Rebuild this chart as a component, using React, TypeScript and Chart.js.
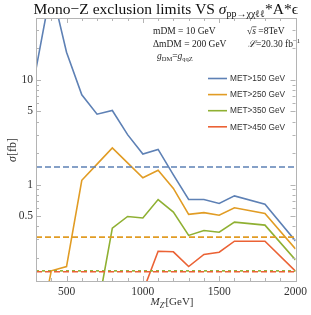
import React, { useEffect, useRef } from "react";
import { Chart, registerables } from "chart.js";
Chart.register(...registerables);

const masses = [300, 400, 500, 600, 700, 800, 900, 1000, 1100, 1200, 1300, 1400, 1500, 1600, 1800, 2000];
const met150 = [12.7, 76, 18.4, 7.2, 4.7, 5.1, 3.0, 1.96, 2.17, 1.24, 0.72, 0.72, 0.66, 0.78, 0.65, 0.29];
const met250 = [0.027, 0.15, 0.165, 1.1, 1.57, 2.24, 1.61, 1.16, 1.37, 0.92, 0.52, 0.54, 0.51, 0.6, 0.53, 0.243];
const met350 = [null, null, null, null, 0.06, 0.384, 0.496, 0.48, 0.72, 0.546, 0.327, 0.364, 0.351, 0.438, 0.41, 0.191];
const met450 = [null, null, null, null, null, null, null, 0.095, 0.231, 0.228, 0.165, 0.215, 0.226, 0.288, 0.288, 0.149];
const limits = [1.47, 0.315, 0.15, 0.147];
const seriesLabels = ["MET>150 GeV", "MET>250 GeV", "MET>350 GeV", "MET>450 GeV"];
const colors = ["#5E81B5", "#E19C24", "#8FB032", "#EB6235"];
const dashes = [[6, 3], [6, 3], [3, 3], [6, 3]];
const xTicks = [500, 1000, 1500, 2000];
const yTicks = [0.5, 1, 5, 10];
const yMinor = [0.2, 0.3, 0.4, 0.6, 0.7, 0.8, 0.9, 2, 3, 4, 6, 7, 8, 9, 20, 30];

const SERIF = '"Liberation Serif", "Times New Roman", serif';
const SANS = '"Liberation Sans", Arial, sans-serif';

type Run = { t: string; font: string; dy?: number; over?: boolean };

function runsWidth(ctx: CanvasRenderingContext2D, runs: Run[]) {
  let w = 0;
  for (const r of runs) {
    ctx.font = r.font;
    w += ctx.measureText(r.t).width;
  }
  return w;
}

function drawRuns(ctx: CanvasRenderingContext2D, runs: Run[], x: number, y: number) {
  let cx = x;
  for (const r of runs) {
    ctx.font = r.font;
    const w = ctx.measureText(r.t).width;
    ctx.fillText(r.t, cx, y + (r.dy || 0));
    if (r.over) {
      ctx.fillRect(cx, y - 7.5, w + 0.5, 0.7);
    }
    cx += w;
  }
  return cx;
}

const deco = {
  id: "deco",
  afterDraw(chart: any) {
    const { ctx, chartArea: a, scales } = chart;
    const xs = scales.x;
    const ys = scales.y;
    ctx.save();
    // frame
    ctx.strokeStyle = "#b4b4b4";
    ctx.lineWidth = 1;
    ctx.strokeRect(Math.round(a.left) + 0.5, Math.round(a.top) + 0.5, Math.round(a.right - a.left), Math.round(a.bottom - a.top));
    ctx.beginPath();
    for (let v = 300; v <= 2000; v += 100) {
      const px = Math.round(xs.getPixelForValue(v)) + 0.5;
      const len = v % 500 === 0 ? 5 : 3;
      ctx.moveTo(px, a.bottom);
      ctx.lineTo(px, a.bottom - len);
      ctx.moveTo(px, a.top);
      ctx.lineTo(px, a.top + len);
    }
    const ticks = yTicks.map((v) => [v, 5]).concat(yMinor.map((v) => [v, 3]));
    for (const [v, len] of ticks) {
      const py = Math.round(ys.getPixelForValue(v)) + 0.5;
      ctx.moveTo(a.left, py);
      ctx.lineTo(a.left + len, py);
      ctx.moveTo(a.right, py);
      ctx.lineTo(a.right - len, py);
    }
    ctx.stroke();

    // legend
    ctx.textBaseline = "middle";
    ctx.textAlign = "left";
    for (let i = 0; i < 4; i++) {
      const ly = 78.5 + i * 16.1;
      ctx.strokeStyle = colors[i];
      ctx.lineWidth = 1.6;
      ctx.beginPath();
      ctx.moveTo(208, ly);
      ctx.lineTo(227, ly);
      ctx.stroke();
      ctx.fillStyle = "#333";
      ctx.font = `8.3px ${SANS}`;
      ctx.fillText(seriesLabels[i], 230, ly + 0.5);
    }

    // annotations
    ctx.textBaseline = "alphabetic";
    ctx.fillStyle = "#222";
    const f9 = `9.5px ${SERIF}`;
    const f9i = `italic 9.5px ${SERIF}`;
    const fs = `6.5px ${SERIF}`;
    drawRuns(ctx, [{ t: "mDM = 10 GeV", font: f9 }], 153, 34);
    drawRuns(ctx, [{ t: "ΔmDM = 200 GeV", font: f9 }], 153, 46.5);
    drawRuns(ctx, [
      { t: "g", font: f9i },
      { t: "DM", font: fs, dy: 2 },
      { t: "=", font: f9 },
      { t: "g", font: f9i },
      { t: "qqZ", font: fs, dy: 2 },
    ], 157, 59);
    drawRuns(ctx, [
      { t: "√", font: f9 },
      { t: "s", font: f9i, over: true },
      { t: " =8TeV", font: f9 },
    ], 247, 34);
    drawRuns(ctx, [
      { t: "ℒ", font: f9i },
      { t: "=20.30 fb", font: f9 },
      { t: "−1", font: fs, dy: -4 },
    ], 248, 46.5);

    // title
    ctx.fillStyle = "#111";
    const ft = `15.5px ${SERIF}`;
    const fti = `italic 15.5px ${SERIF}`;
    const fts = `10px ${SERIF}`;
    const title: Run[] = [
      { t: "Mono−Z exclusion limits VS ", font: ft },
      { t: "σ", font: fti },
      { t: "pp→χχℓℓ", font: fts, dy: 3 },
      { t: "*A*ϵ", font: ft },
    ];
    const tw = runsWidth(ctx, title);
    drawRuns(ctx, title, (a.left + a.right) / 2 - tw / 2, 14);

    // x axis title
    ctx.fillStyle = "#333";
    const xt: Run[] = [
      { t: "M", font: `italic 11px ${SERIF}` },
      { t: "Z'", font: `italic 7.5px ${SERIF}`, dy: 2.5 },
      { t: "[GeV]", font: `11px ${SERIF}` },
    ];
    const xw = runsWidth(ctx, xt);
    drawRuns(ctx, xt, 172 - xw / 2, 305);

    // y axis title
    ctx.save();
    ctx.translate(16, 150);
    ctx.rotate(-Math.PI / 2);
    const yt: Run[] = [
      { t: "σ", font: `italic 12px ${SERIF}` },
      { t: "[fb]", font: `12px ${SERIF}` },
    ];
    const yw = runsWidth(ctx, yt);
    drawRuns(ctx, yt, -yw / 2, 0);
    ctx.restore();

    ctx.restore();
  },
};

export default function App() {
  const ref = useRef<HTMLCanvasElement>(null);
  useEffect(() => {
    const series = [met150, met250, met350, met450];
    const lineSets = series.map((vals, i) => ({
      label: seriesLabels[i],
      data: masses.map((m, j) => ({ x: m, y: vals[j] })),
      borderColor: colors[i],
      backgroundColor: colors[i],
      borderWidth: 1.6,
      pointRadius: 0,
      tension: 0,
      fill: false,
      spanGaps: false,
    }));
    const limitSets = limits.map((v, i) => ({
      label: seriesLabels[i] + " limit",
      data: [
        { x: masses[0], y: v },
        { x: masses[masses.length - 1], y: v },
      ],
      borderColor: colors[i],
      borderWidth: 1.6,
      borderDash: dashes[i],
      pointRadius: 0,
      fill: false,
    }));
    const chart = new Chart(ref.current!, {
      type: "line",
      data: { datasets: [...limitSets.slice(0, 2), limitSets[3], limitSets[2], ...lineSets] as any },
      options: {
        animation: false,
        responsive: false,
        devicePixelRatio: 1,
        layout: { padding: { top: 18, right: 13, left: 0, bottom: 0 } },
        plugins: { legend: { display: false }, tooltip: { enabled: false }, title: { display: false } },
        scales: {
          x: {
            type: "linear",
            min: 300,
            max: 2000,
            grid: { display: false, drawTicks: false },
            border: { display: false },
            afterBuildTicks: (s: any) => {
              s.ticks = xTicks.map((v) => ({ value: v }));
            },
            afterFit: (s: any) => {
              s.height = 34;
            },
            ticks: {
              maxRotation: 0,
              autoSkip: false,
              padding: 4,
              color: "#333",
              font: { family: SERIF, size: 11.5 },
              callback: (v: any) => String(v),
            },
          },
          y: {
            type: "logarithmic",
            min: 0.12,
            max: 39,
            grid: { display: false, drawTicks: false },
            border: { display: false },
            afterBuildTicks: (s: any) => {
              s.ticks = yTicks.map((v) => ({ value: v }));
            },
            afterFit: (s: any) => {
              s.width = 36;
            },
            ticks: {
              autoSkip: false,
              padding: 3,
              color: "#333",
              font: { family: SERIF, size: 11.5 },
              callback: (v: any) => String(v),
            },
          },
        },
      },
      plugins: [deco],
    } as any);
    return () => chart.destroy();
  }, []);
  return (
    <div style={{ position: "absolute", left: 0, top: 0, width: 311, height: 315, background: "#fff" }}>
      <canvas ref={ref} width={311} height={315} style={{ width: 311, height: 315, display: "block" }} />
    </div>
  );
}
